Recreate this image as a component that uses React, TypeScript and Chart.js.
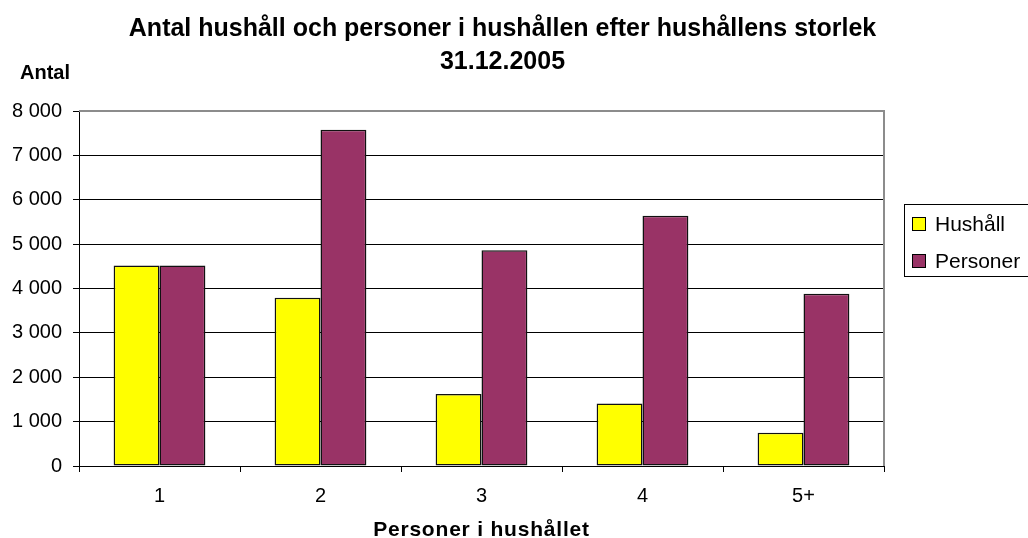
import React, { useEffect, useRef } from "react";
import { Chart, registerables } from "chart.js";

Chart.register(...registerables);

const categories = ["1", "2", "3", "4", "5+"];
const hushall = [4520, 3790, 1620, 1410, 750];
const personer = [4520, 7580, 4860, 5640, 3880];
const seriesNames = ["Hushåll", "Personer"];
const seriesColors = ["#FFFF00", "#993366"];
const titleLines = ["Antal hushåll och personer i hushållen efter hushållens storlek", "31.12.2005"];
const yTitle = "Antal";
const xTitle = "Personer i hushållet";
const yMin = 0;
const yMax = 8000;
const yStep = 1000;

const FONT = "'Liberation Sans', Arial, sans-serif";

const fmt = (v: number) => String(v).replace(/\B(?=(\d{3})+(?!\d))/g, " ");

const decorPlugin = {
  id: "decor",
  afterDraw(chart: any) {
    const ctx = chart.ctx;
    const a = chart.chartArea;
    ctx.save();
    // plot border top/right (gray)
    ctx.strokeStyle = "#8c8c8c";
    ctx.lineWidth = 2;
    ctx.beginPath();
    ctx.moveTo(a.left, a.top);
    ctx.lineTo(a.right, a.top);
    ctx.lineTo(a.right, a.bottom);
    ctx.stroke();

    // title
    ctx.fillStyle = "#000";
    ctx.textAlign = "center";
    ctx.textBaseline = "alphabetic";
    ctx.font = `bold 25px ${FONT}`;
    ctx.fillText(titleLines[0], 502.5, 36);
    ctx.fillText(titleLines[1], 502.5, 69);

    // y title
    ctx.textAlign = "left";
    ctx.font = `bold 20px ${FONT}`;
    ctx.fillText(yTitle, 20, 79);

    // x title
    ctx.textAlign = "center";
    ctx.font = `bold 21px ${FONT}`;
    (ctx as any).letterSpacing = "0.8px";
    ctx.fillText(xTitle, (a.left + a.right) / 2, 536);
    (ctx as any).letterSpacing = "0px";

    // legend
    const lx = 904.5, ly = 204.5;
    ctx.strokeStyle = "#000";
    ctx.lineWidth = 1;
    ctx.strokeRect(lx, ly, 140, 72);
    ctx.font = `21px ${FONT}`;
    ctx.textAlign = "left";
    const sy = [217, 254];
    seriesNames.forEach((n, i) => {
      ctx.fillStyle = seriesColors[i];
      ctx.fillRect(912, sy[i], 13, 13);
      ctx.strokeRect(912.5, sy[i] + 0.5, 13, 13);
      ctx.fillStyle = "#000";
      ctx.fillText(n, 935, sy[i] + 14);
    });
    ctx.restore();
  },
};

export default function App() {
  const ref = useRef<HTMLCanvasElement | null>(null);
  useEffect(() => {
    if (!ref.current) return;
    const chart = new Chart(ref.current, {
      type: "bar",
      data: {
        labels: categories,
        datasets: [
          {
            label: seriesNames[0],
            data: hushall,
            backgroundColor: seriesColors[0],
            borderColor: "#111",
            borderWidth: 1.5,
            borderSkipped: false,
            categoryPercentage: 0.57,
            barPercentage: 1.0,
          },
          {
            label: seriesNames[1],
            data: personer,
            backgroundColor: seriesColors[1],
            borderColor: "#111",
            borderWidth: 1.5,
            borderSkipped: false,
            categoryPercentage: 0.57,
            barPercentage: 1.0,
          },
        ],
      },
      options: {
        responsive: false,
        animation: false,
        devicePixelRatio: 1,
        layout: { padding: { top: 111, right: 144, left: 0, bottom: 0 } },
        plugins: { legend: { display: false }, title: { display: false }, tooltip: { enabled: false } },
        scales: {
          x: {
            grid: { display: true, drawOnChartArea: false, drawTicks: true, tickLength: 6, color: "#000", offset: true },
            border: { display: true, color: "#000", width: 1 },
            ticks: { color: "#000", font: { family: FONT, size: 20 }, padding: 12, maxRotation: 0 },
            afterFit: (s: any) => { s.height = 72; },
          },
          y: {
            min: yMin,
            max: yMax,
            grid: { color: "#000", tickLength: 6, lineWidth: 1 },
            border: { display: true, color: "#000", width: 1 },
            ticks: {
              stepSize: yStep,
              color: "#000",
              font: { family: FONT, size: 20 },
              padding: 11,
              callback: (v: any) => fmt(Number(v)),
            },
            afterFit: (s: any) => { s.width = 79; },
          },
        },
      },
      plugins: [decorPlugin],
    });
    return () => chart.destroy();
  }, []);
  return (
    <div style={{ position: "absolute", left: 0, top: 0, width: 1028, height: 538, background: "#fff" }}>
      <canvas ref={ref} width={1028} height={538} />
    </div>
  );
}
